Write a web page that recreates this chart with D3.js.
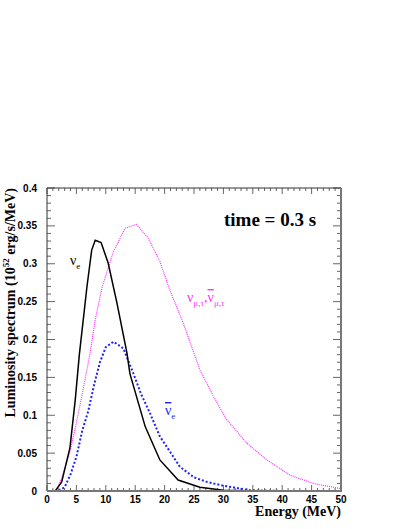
<!DOCTYPE html>
<html>
<head>
<meta charset="utf-8">
<script src="https://cdn.jsdelivr.net/npm/d3@7"></script>
<style>
  body { margin: 0; background: #fff; }
  svg { display: block; }
  .tick-label { font-family: "Liberation Sans", Arial, sans-serif; font-weight: bold; font-size: 10px; }
  .title { font-family: "Liberation Serif", "Times New Roman", serif; font-weight: bold; }
  .curve-label { font-family: "Liberation Serif", "Times New Roman", serif; }
</style>
</head>
<body>
<div id="chart"></div>
<script>
// nu_e (black, solid)
const nueE = [0, 1.4, 2.5, 3.9, 4.8, 5.5, 6.8, 7.6, 8.2, 9.2, 10.4, 11.9, 13.6, 14.1, 16.7, 19.2, 22.3, 26, 30, 35, 50];
const nueL = [0, 0, 0.012, 0.057, 0.12, 0.18, 0.27, 0.318, 0.331, 0.328, 0.301, 0.248, 0.182, 0.155, 0.085, 0.041, 0.0145, 0.005, 0.001, 0, 0];

// anti nu_e (blue, dotted)
const anueE = [0, 1.9, 3, 4, 5, 6, 7, 8, 9, 10, 11.3, 12.3, 13, 14.7, 16, 17.5, 19.2, 20.4, 22.6, 25, 27.2, 30, 34.5, 40, 50];
const anueL = [0, 0, 0.005, 0.022, 0.045, 0.08, 0.105, 0.14, 0.17, 0.19, 0.197, 0.192, 0.188, 0.155, 0.128, 0.103, 0.072, 0.058, 0.032, 0.018, 0.012, 0.007, 0.001, 0, 0];

// nu_mu,tau + anti (magenta, fine dotted)
const numuE = [0, 1.6, 2.5, 3.9, 5, 6.2, 7.3, 8.2, 9.4, 11.3, 13.3, 15.2, 17.2, 19.2, 20.9, 23.2, 26, 28.3, 30.5, 34, 37.4, 41.3, 45.3, 50];
const numuL = [0, 0, 0.017, 0.052, 0.09, 0.136, 0.181, 0.226, 0.27, 0.316, 0.347, 0.352, 0.334, 0.303, 0.265, 0.221, 0.16, 0.125, 0.095, 0.063, 0.041, 0.021, 0.010, 0.003];

const xMajor = [0, 5, 10, 15, 20, 25, 30, 35, 40, 45, 50];
const yMajor = [0, 0.05, 0.1, 0.15, 0.2, 0.25, 0.3, 0.35, 0.4];
const yLabels = ['0', '0.05', '0.1', '0.15', '0.2', '0.25', '0.3', '0.35', '0.4'];

const width = 409;
const height = 529;
const margin = { top: 188, right: 68, bottom: 38, left: 47 };

const x = d3.scaleLinear().domain([0, 50]).range([margin.left, width - margin.right]);
const y = d3.scaleLinear().domain([0, 0.4]).range([height - margin.bottom, margin.top]);

const svg = d3.select('#chart').append('svg')
  .attr('width', width)
  .attr('height', height);

const x0 = x(0), x1 = x(50), y0 = y(0), y1 = y(0.4);

// minor ticks
const xMinor = d3.range(0, 51, 1);
const yMinor = d3.range(0, 41, 1).map((d) => d / 100);

const ticks = svg.append('g').attr('stroke', '#666').attr('stroke-width', 1);
xMinor.forEach((v) => {
  const len = v % 5 === 0 ? 6 : 3;
  ticks.append('line').attr('x1', x(v)).attr('x2', x(v)).attr('y1', y0).attr('y2', y0 - len);
  ticks.append('line').attr('x1', x(v)).attr('x2', x(v)).attr('y1', y1).attr('y2', y1 + len);
});
yMinor.forEach((v, i) => {
  const len = i % 5 === 0 ? 8 : 4;
  ticks.append('line').attr('x1', x0).attr('x2', x0 + len).attr('y1', y(v)).attr('y2', y(v));
  ticks.append('line').attr('x1', x1).attr('x2', x1 - len).attr('y1', y(v)).attr('y2', y(v));
});

// curves
const line = (xs, ys) => d3.line().x((d, i) => x(xs[i])).y((d) => y(d))(ys);

svg.append('path').attr('d', line(numuE, numuL))
  .attr('fill', 'none').attr('stroke', '#ff33ff').attr('stroke-width', 1.2)
  .attr('stroke-dasharray', '1,1');
svg.append('path').attr('d', line(anueE, anueL))
  .attr('fill', 'none').attr('stroke', '#1f1fff').attr('stroke-width', 2)
  .attr('stroke-dasharray', '2,2');
svg.append('path').attr('d', line(nueE, nueL))
  .attr('fill', 'none').attr('stroke', '#000').attr('stroke-width', 1.5);

// frame
svg.append('line').attr('x1', x0).attr('x2', x1).attr('y1', y1).attr('y2', y1).attr('stroke', '#333').attr('stroke-width', 1);
svg.append('line').attr('x1', x0).attr('x2', x0).attr('y1', y1).attr('y2', y0).attr('stroke', '#333').attr('stroke-width', 1);
svg.append('line').attr('x1', x1).attr('x2', x1).attr('y1', y1).attr('y2', y0 + 1).attr('stroke', '#777').attr('stroke-width', 2);
svg.append('line').attr('x1', x0).attr('x2', x1 + 1).attr('y1', y0).attr('y2', y0).attr('stroke', '#777').attr('stroke-width', 2);

// tick labels
svg.append('g').selectAll('text').data(xMajor).join('text')
  .attr('class', 'tick-label')
  .attr('x', (d) => x(d)).attr('y', y0 + 12)
  .attr('text-anchor', 'middle')
  .text((d) => d);

svg.append('g').selectAll('text').data(yMajor).join('text')
  .attr('class', 'tick-label')
  .attr('x', x0 - 10).attr('y', (d) => y(d) + 3.5)
  .attr('text-anchor', 'end')
  .text((d, i) => yLabels[i]);

// axis titles
svg.append('text').attr('class', 'title')
  .attr('x', x1).attr('y', 516)
  .attr('text-anchor', 'end').attr('font-size', 14)
  .text('Energy (MeV)');

const yt = svg.append('text').attr('class', 'title')
  .attr('transform', `translate(15, ${y1}) rotate(-90)`)
  .attr('text-anchor', 'end').attr('font-size', 14);
yt.append('tspan').text('Luminosity spectrum (10');
yt.append('tspan').attr('font-size', 9).attr('dy', -6).text('52');
yt.append('tspan').attr('dy', 6).text(' erg/s/MeV)');

// time label
svg.append('text').attr('class', 'title')
  .attr('x', 224).attr('y', 226).attr('font-size', 19)
  .text('time = 0.3 s');

// curve labels
const l1 = svg.append('text').attr('class', 'curve-label').attr('fill', '#000')
  .attr('x', 70).attr('y', 265).attr('font-size', 14);
l1.append('tspan').text('ν');
l1.append('tspan').attr('font-size', 9).attr('dy', 4).text('e');

const l2 = svg.append('text').attr('class', 'curve-label').attr('fill', '#1f1fff')
  .attr('x', 165).attr('y', 415).attr('font-size', 14);
l2.append('tspan').attr('text-decoration', 'overline').text('ν');
l2.append('tspan').attr('font-size', 9).attr('dy', 4).text('e');

const l3 = svg.append('text').attr('class', 'curve-label').attr('fill', '#ff33ff')
  .attr('x', 187).attr('y', 302).attr('font-size', 14);
l3.append('tspan').text('ν');
l3.append('tspan').attr('font-size', 9).attr('dy', 4).text('μ,τ');
l3.append('tspan').attr('dy', -4).text(',');
l3.append('tspan').attr('text-decoration', 'overline').text('ν');
l3.append('tspan').attr('font-size', 9).attr('dy', 4).text('μ,τ');
</script>
</body>
</html>
